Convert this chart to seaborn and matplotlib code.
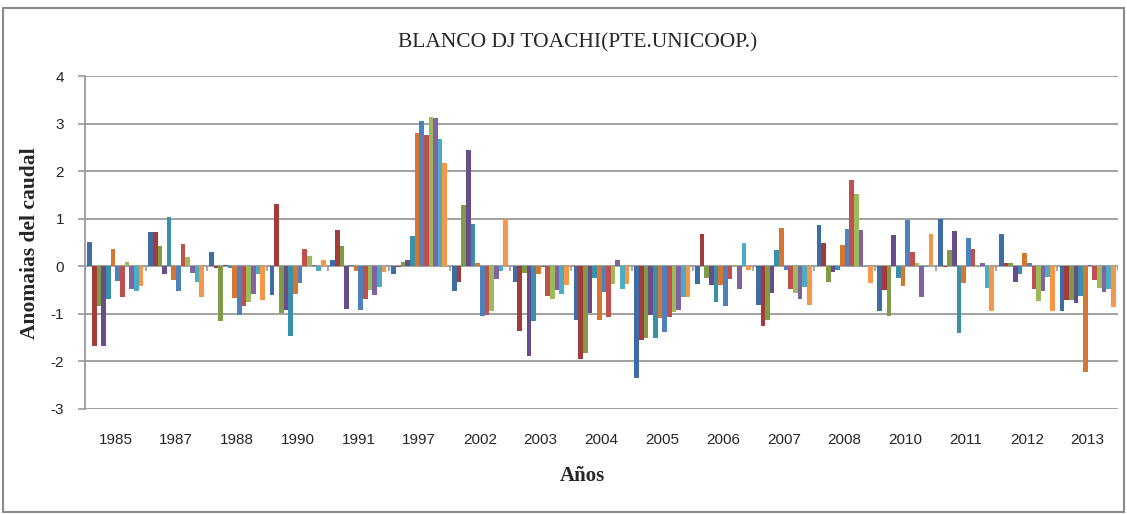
import matplotlib.pyplot as plt
import numpy as np
import pandas as pd
import seaborn as sns
from matplotlib.patches import Rectangle

# Anomalias mensuales del caudal, una lista por año (Ene..Dic)
years = ["1985", "1987", "1988", "1990", "1991", "1997", "2002", "2003", "2004",
         "2005", "2006", "2007", "2008", "2010", "2011", "2012", "2013"]
months = ["Ene", "Feb", "Mar", "Abr", "May", "Jun", "Jul", "Ago", "Sep", "Oct", "Nov", "Dic"]

a1985 = [0.51, -1.67, -0.84, -1.67, -0.69, 0.37, -0.30, -0.64, 0.10, -0.48, -0.51, -0.41]
a1987 = [0.72, 0.72, 0.42, -0.17, 1.04, -0.28, -0.53, 0.47, 0.19, -0.15, -0.33, -0.64]
a1988 = [0.31, -0.04, -1.16, 0.03, -0.04, -0.66, -1.02, -0.84, -0.76, -0.58, -0.17, -0.71]
a1990 = [-0.61, 1.30, -0.99, -0.92, -1.46, -0.58, -0.35, 0.37, 0.21, 0.03, -0.10, 0.13]
a1991 = [0.14, 0.76, 0.42, -0.89, 0.03, -0.09, -0.91, -0.68, -0.50, -0.61, -0.43, -0.12]
a1997 = [-0.17, -0.01, 0.09, 0.14, 0.63, 2.81, 3.06, 2.75, 3.14, 3.11, 2.67, 2.18]
a2002 = [-0.53, -0.34, 1.28, 2.44, 0.89, 0.06, -1.04, -1.02, -0.93, -0.27, -0.09, 1.00]
a2003 = [-0.32, -1.35, -0.15, -1.89, -1.14, -0.17, -0.01, -0.63, -0.68, -0.50, -0.58, -0.40]
a2004 = [-1.13, -1.95, -1.82, -0.99, -0.24, -1.12, -0.55, -1.07, -0.37, 0.14, -0.48, -0.37]
a2005 = [-2.34, -1.56, -1.51, -1.02, -1.51, -1.09, -1.38, -1.07, -0.97, -0.91, -0.65, -0.65]
a2006 = [-0.37, 0.67, -0.24, -0.39, -0.76, -0.40, -0.84, -0.27, 0.03, -0.48, 0.50, -0.08]
a2007 = [-0.82, -1.26, -1.12, -0.56, 0.34, 0.80, -0.08, -0.47, -0.56, -0.69, -0.44, -0.82]
a2008 = [0.86, 0.48, -0.32, -0.11, -0.08, 0.45, 0.78, 1.81, 1.53, 0.76, -0.01, -0.35]
a2010 = [-0.94, -0.50, -1.04, 0.65, -0.24, -0.42, 0.97, 0.31, 0.06, -0.65, -0.01, 0.68]
a2011 = [0.99, -0.01, 0.34, 0.74, -1.40, -0.35, 0.60, 0.37, 0.03, 0.06, -0.45, -0.94]
a2012 = [0.68, 0.06, 0.06, -0.32, -0.17, 0.27, 0.06, -0.48, -0.73, -0.52, -0.22, -0.94]
a2013 = [-0.94, -0.71, -0.71, -0.78, -0.63, -2.22, 0.03, -0.29, -0.45, -0.55, -0.48, -0.86]

month_colors = ["#3E6CA4", "#A23B39", "#7F9B45", "#674E8A", "#3A90A8", "#D7772F",
                "#4F81BD", "#C0504D", "#9BBB59", "#8064A2", "#4BACC6", "#F79646"]

rows = [a1985, a1987, a1988, a1990, a1991, a1997, a2002, a2003, a2004,
        a2005, a2006, a2007, a2008, a2010, a2011, a2012, a2013]
df = pd.DataFrame(rows, index=years, columns=months).rename_axis("anio").reset_index()
df = df.melt(id_vars="anio", var_name="mes", value_name="anomalia")

sns.set_theme(style="white")
plt.rcParams["axes.unicode_minus"] = False
fig = plt.figure(figsize=(11.27, 5.14), dpi=100)
ax = fig.add_axes([85 / 1127, 1 - 409 / 514, (1118 - 85) / 1127, (409 - 76) / 514])

sns.barplot(data=df, x="anio", y="anomalia", hue="mes", order=years, hue_order=months,
            palette=month_colors, width=0.92, gap=0, saturation=1, errorbar=None,
            legend=False, linewidth=0, ax=ax)

grid_col = "#9a9a9a"
ax.set_ylim(-3, 4)
ax.set_xlim(-0.5, len(years) - 0.5)
ax.set_yticks(range(-3, 5))
ax.yaxis.grid(True, color=grid_col, linewidth=1.3)
ax.set_axisbelow(True)
for side in ["top", "right", "bottom"]:
    ax.spines[side].set_visible(False)
ax.spines["left"].set_color(grid_col)
ax.spines["left"].set_linewidth(1.3)

# marcas entre categorias sobre el eje en cero
ax.vlines(np.arange(len(years) + 1) - 0.5, -0.09, 0, color=grid_col, linewidth=1.2)

ax.tick_params(axis="y", left=True, length=5, width=1.2, color=grid_col, labelsize=11, pad=10)
ax.tick_params(axis="x", bottom=False, length=0, labelsize=11, pad=17)
for lab in ax.get_xticklabels() + ax.get_yticklabels():
    lab.set_fontfamily("Liberation Sans")
ax.set_xlabel("")
ax.set_ylabel("")

fig.text(578 / 1127, 1 - 43 / 514, "BLANCO DJ TOACHI(PTE.UNICOOP.)", ha="center", va="center",
         fontsize=15.5, family="Liberation Serif")
fig.text(30 / 1127, 1 - 243 / 514, "Anomaias del caudal", rotation=90, ha="center", va="center",
         fontsize=15.5, fontweight="bold", family="Liberation Serif")
fig.text(582 / 1127, 1 - 476 / 514, "Años", ha="center", va="center",
         fontsize=15, fontweight="bold", family="Liberation Serif")

fig.add_artist(Rectangle((3 / 1127, 0.004), 1121 / 1127, 0.98, transform=fig.transFigure,
                         fill=False, edgecolor="#8a8a8a", linewidth=1.5))

fig.savefig("out.png", dpi=100)
